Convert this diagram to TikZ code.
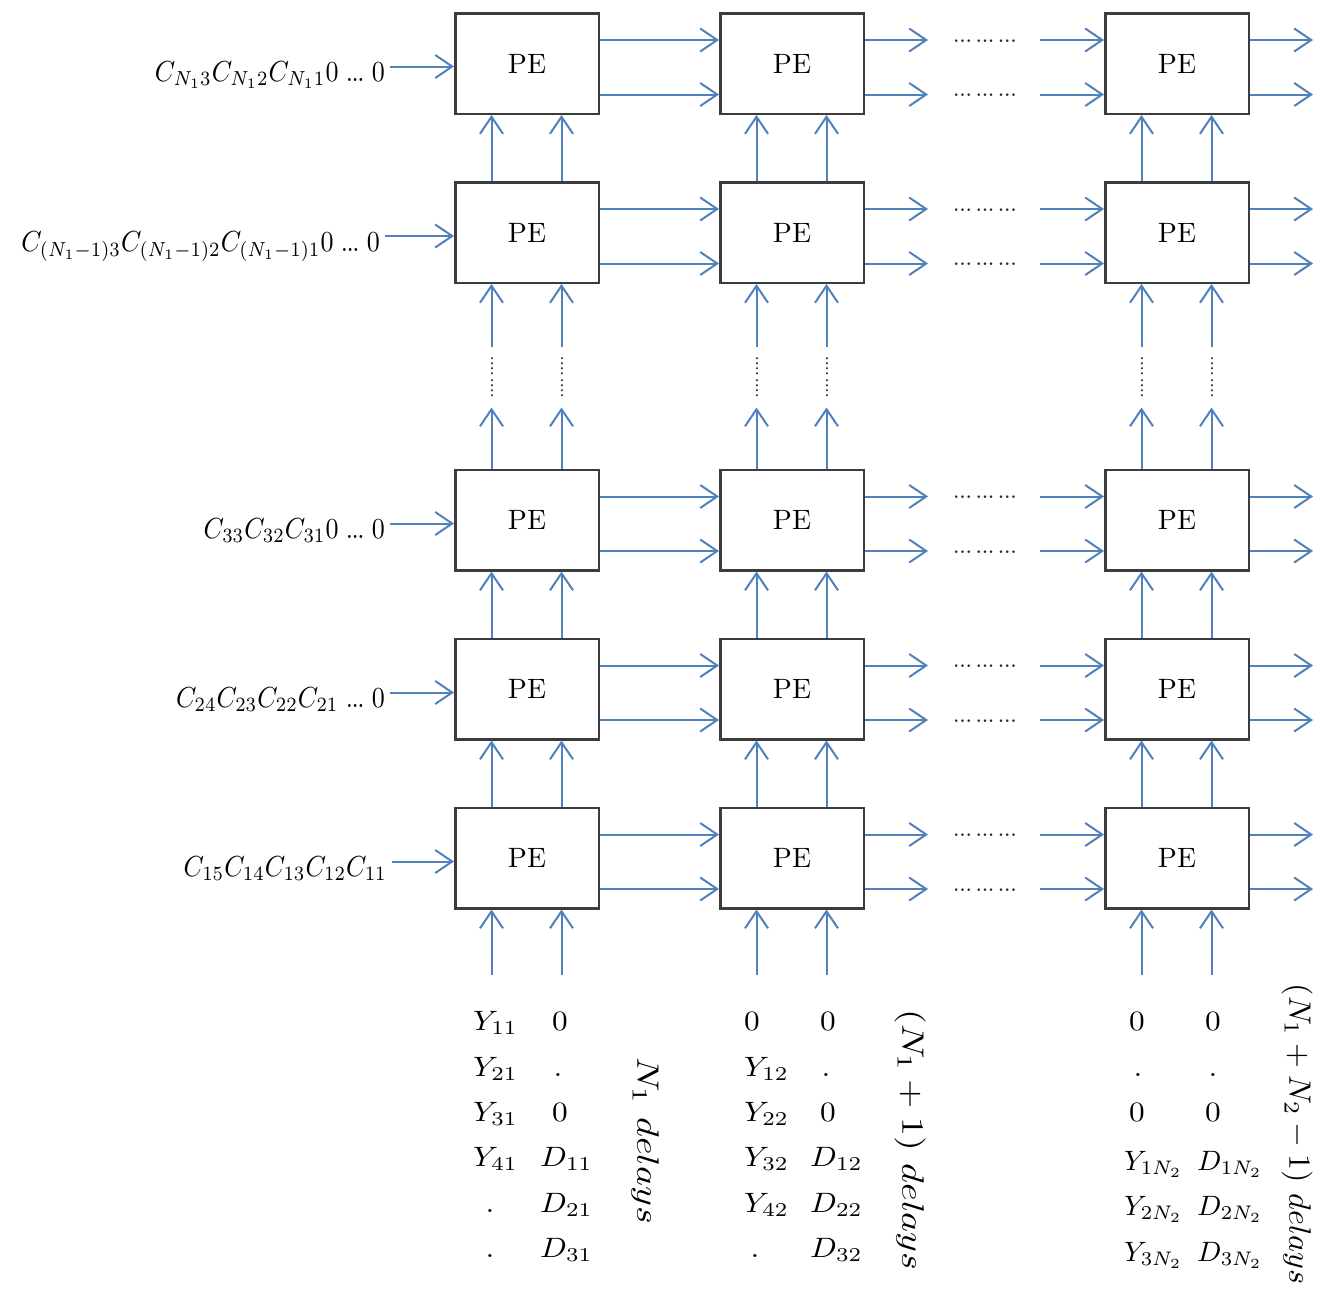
\documentclass[tikz,border=0pt]{standalone}
\usetikzlibrary{arrows.meta,calc}
\definecolor{arrowblue}{RGB}{79,129,189}
\definecolor{boxgray}{RGB}{60,60,60}
\definecolor{dotcol}{RGB}{50,40,30}
\newcommand{\botmath}[1]{\scalebox{3.13}[2.8]{$#1$}}
\newcommand{\botmathn}[1]{\scalebox{2.85}[2.8]{$#1$}}
\newcommand{\rotmath}[1]{\scalebox{3.78}[3.1]{$#1$}}
\newcommand{\rotmathn}[1]{\scalebox{3.2}[3.1]{$#1$}}
\newcommand{\leftmath}[1]{\scalebox{2.6}[2.9]{$#1$}}
\newcommand{\tdots}{{.}\mkern-1mu{.}\mkern-1mu{.}}
\newcommand{\petext}{\scalebox{2.8}{PE}}
\newcommand{\dgrp}{.\kern-0.3pt.\kern-0.3pt.}
\newcommand{\hdottext}{\scalebox{2.5}{\dgrp\kern1.2pt\dgrp\kern1.2pt\dgrp}}
\newcommand{\vdottext}{\scalebox{2}{\dgrp\kern-0.3pt.\kern1pt\dgrp\kern-0.3pt.}}
\tikzset{
  pebox/.style={draw=boxgray, line width=2.5pt, minimum width=143.5pt, minimum height=100.5pt, inner sep=0pt},
  arr/.style={draw=arrowblue, line width=2pt, -{Straight Barb[length=17pt,width=23pt]}},
  leftlab/.style={anchor=east, inner sep=0pt, text height=36pt, text depth=6pt},
  botlab/.style={inner sep=0pt},
  rotlab/.style={rotate=-90, inner sep=0pt},
  hdots/.style={anchor=base, inner sep=0pt, text=dotcol},
  vdots/.style={anchor=base, rotate=90, inner sep=0pt, text=dotcol},
}
\begin{document}
\begin{tikzpicture}[x=1pt,y=-1pt]
\path[fill=white, use as bounding box] (0,0) rectangle (1327,1291);

% PE boxes
\foreach \row/\cy in {1/63.5,2/232.5,3/520,4/689,5/858}{
  \foreach \col/\cx in {1/527,2/792,3/1177}{
    \node[pebox] (p\row\col) at (\cx,\cy) {\petext};
  }
}

% horizontal connections
\foreach \row in {1,...,5}{
  \foreach \k/\dy in {a/-23.5,b/31}{
    \draw[arr] ($(p\row1.east)+(0,\dy)$) -- ($(p\row2.west)+(0,\dy)$);
    \coordinate (o\row\k) at ($(p\row2.east)+(63,\dy)$);
    \draw[arr] ($(p\row2.east)+(0,\dy)$) -- (o\row\k);
    \node[hdots] (d\row\k) at ($(p\row2.east)+(120,{\dy+2})$) {\hdottext};
    \coordinate (s\row\k) at ($(p\row3.west)+(-64,\dy)$);
    \draw[arr] (s\row\k) -- ($(p\row3.west)+(0,\dy)$);
    \coordinate (e\row\k) at ($(p\row3.east)+(63,\dy)$);
    \draw[arr] ($(p\row3.east)+(0,\dy)$) -- (e\row\k);
  }
}

% vertical connections
\foreach \col in {1,2,3}{
  \foreach \k/\dx in {a/-35.5,b/34.5}{
    \draw[arr] ($(p2\col.north)+(\dx,0)$) -- ($(p1\col.south)+(\dx,0)$);
    \draw[arr] ($(p4\col.north)+(\dx,0)$) -- ($(p3\col.south)+(\dx,0)$);
    \draw[arr] ($(p5\col.north)+(\dx,0)$) -- ($(p4\col.south)+(\dx,0)$);
    \coordinate (g\col\k) at ($(p3\col.north)+(\dx,-61)$);
    \draw[arr] ($(p3\col.north)+(\dx,0)$) -- (g\col\k);
    \coordinate (h\col\k) at ($(p2\col.south)+(\dx,63)$);
    \draw[arr] (h\col\k) -- ($(p2\col.south)+(\dx,0)$);
    \node[vdots] (v\col\k) at ($(p2\col.south)+({\dx+1.5},93)$) {\vdottext};
    \coordinate (b\col\k) at ($(p5\col.south)+(\dx,65)$);
    \draw[arr] (b\col\k) -- ($(p5\col.south)+(\dx,0)$);
  }
}

% left input labels
\node[leftlab] (l1) at (385,66.5) {\leftmath{C_{N_1 3}C_{N_1 2}C_{N_1 1}0\;\tdots\;0}};
\node[leftlab] (l2) at (380,236) {\leftmath{C_{(N_1-1)3}C_{(N_1-1)2}C_{(N_1-1)1}0\;\tdots\;0}};
\node[leftlab] (l3) at (385,523.5) {\leftmath{C_{33}C_{32}C_{31}0\;\tdots\;0}};
\node[leftlab] (l4) at (385,692.5) {\leftmath{C_{24}C_{23}C_{22}C_{21}\;\tdots\;0}};
\node[leftlab] (l5) at (387,861.5) {\leftmath{C_{15}C_{14}C_{13}C_{12}C_{11}}};
\foreach \row in {1,...,5}{
  \draw[arr, shorten <=5pt] (l\row.east) -- (l\row.east -| p\row1.west);
}

% bottom labels, column 1
\node[botlab, anchor=base west] (y11) at (473,1030) {\botmath{Y_{11}}};
\node[botlab, anchor=base west] (y21) at (473,1076) {\botmath{Y_{21}}};
\node[botlab, anchor=base west] (y31) at (473,1121) {\botmath{Y_{31}}};
\node[botlab, anchor=base west] (y41) at (473,1166) {\botmath{Y_{41}}};
\node[botlab, anchor=base] (y51) at (490,1212) {\botmath{.}};
\node[botlab, anchor=base] (y61) at (490,1257) {\botmath{.}};
\node[botlab, anchor=base] (z11) at (560,1030) {\botmath{0}};
\node[botlab, anchor=base] (z21) at (558,1076) {\botmath{.}};
\node[botlab, anchor=base] (z31) at (560,1121) {\botmath{0}};
\node[botlab, anchor=base west] (z41) at (540,1166) {\botmath{D_{11}}};
\node[botlab, anchor=base west] (z51) at (540,1212) {\botmath{D_{21}}};
\node[botlab, anchor=base west] (z61) at (540,1257) {\botmath{D_{31}}};

% column 2
\node[botlab, anchor=base] (y12) at (752,1030) {\botmath{0}};
\node[botlab, anchor=base west] (y22) at (744,1076) {\botmath{Y_{12}}};
\node[botlab, anchor=base west] (y32) at (744,1121) {\botmath{Y_{22}}};
\node[botlab, anchor=base west] (y42) at (744,1166) {\botmath{Y_{32}}};
\node[botlab, anchor=base west] (y52) at (744,1212) {\botmath{Y_{42}}};
\node[botlab, anchor=base] (y62) at (755,1257) {\botmath{.}};
\node[botlab, anchor=base] (z12) at (828,1030) {\botmath{0}};
\node[botlab, anchor=base] (z22) at (826,1076) {\botmath{.}};
\node[botlab, anchor=base] (z32) at (828,1121) {\botmath{0}};
\node[botlab, anchor=base west] (z42) at (810,1166) {\botmath{D_{12}}};
\node[botlab, anchor=base west] (z52) at (810,1212) {\botmath{D_{22}}};
\node[botlab, anchor=base west] (z62) at (810,1257) {\botmath{D_{32}}};

% column 3
\node[botlab, anchor=base] (y13) at (1137,1030) {\botmath{0}};
\node[botlab, anchor=base] (y23) at (1138,1076) {\botmath{.}};
\node[botlab, anchor=base] (y33) at (1137,1121) {\botmath{0}};
\node[botlab, anchor=base west] (y43) at (1124,1170) {\botmathn{Y_{1N_2}}};
\node[botlab, anchor=base west] (y53) at (1124,1215) {\botmathn{Y_{2N_2}}};
\node[botlab, anchor=base west] (y63) at (1124,1261) {\botmathn{Y_{3N_2}}};
\node[botlab, anchor=base] (z13) at (1213,1030) {\botmath{0}};
\node[botlab, anchor=base] (z23) at (1213,1076) {\botmath{.}};
\node[botlab, anchor=base] (z33) at (1213,1121) {\botmath{0}};
\node[botlab, anchor=base west] (z43) at (1197,1170) {\botmathn{D_{1N_2}}};
\node[botlab, anchor=base west] (z53) at (1197,1215) {\botmathn{D_{2N_2}}};
\node[botlab, anchor=base west] (z63) at (1197,1261) {\botmathn{D_{3N_2}}};

% delay labels
\node[rotlab] (r1) at (645,1141) {\rotmath{N_1\ delays}};
\node[rotlab] (r2) at (910,1140) {\rotmath{(N_1+1)\ delays}};
\node[rotlab] (r3) at (1297,1134) {\rotmathn{(N_1+N_2-1)\ delays}};
\end{tikzpicture}
\end{document}
